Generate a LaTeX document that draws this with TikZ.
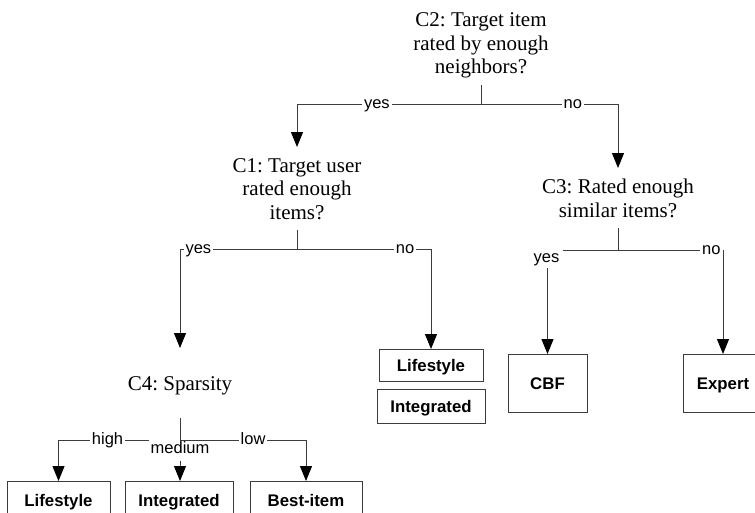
\documentclass[tikz,border=0pt]{standalone}
\usepackage{fontspec}
\setmainfont{Liberation Serif}
\setsansfont{Liberation Sans}
\usetikzlibrary{arrows.meta,positioning}
\definecolor{linegray}{HTML}{3C3C3C}
\frenchspacing

\begin{document}
\begin{tikzpicture}[x=1pt,y=-1pt,
    cond/.style={align=center,font=\fontsize{21}{23.5}\selectfont,inner xsep=2pt,inner ysep=11pt,text depth=0pt},
    lbl/.style={font=\sffamily\fontsize{16.5}{18}\selectfont,fill=white,inner sep=2pt,text height=8.6pt,text depth=0pt},
    leaf/.style={draw=linegray,line width=1pt,font=\sffamily\bfseries\fontsize{16.8}{18}\selectfont,text height=12pt,text depth=0pt},
    wire/.style={draw=linegray,line width=1pt},
    arr/.style={wire,-{Triangle[length=15pt,width=12pt,color=black]}}]
    \useasboundingbox (0,0) rectangle (755,512);

    \node[cond,anchor=north] (c2) at (481,1.5) {C2: Target item\\rated by enough\\neighbors?};
    \node[cond,anchor=north] (c1) at (297,147) {C1: Target user\\rated enough\\items?};
    \node[cond,anchor=north] (c3) at (618,168) {C3: Rated enough\\similar items?};
    \node[cond,anchor=north,inner ysep=28pt] (c4) at (180,348) {C4: Sparsity};

    \node[leaf,anchor=north,minimum width=104pt,minimum height=32pt] (life1) at (431,349) {Lifestyle};
    \node[leaf,below=7pt of life1,minimum width=108pt,minimum height=34pt] (int1) {Integrated};
    \node[leaf,anchor=north,minimum width=79pt,minimum height=58pt] (cbf) at (547.5,354) {CBF};
    \node[leaf,anchor=north,minimum width=80pt,minimum height=58pt] (expert) at (723,354) {Expert};
    \node[leaf,anchor=north,minimum width=103pt,minimum height=37pt] (life2) at (58.5,481) {Lifestyle};
    \node[leaf,anchor=north,minimum width=108pt,minimum height=37pt] (int2) at (179,481) {Integrated};
    \node[leaf,anchor=north,minimum width=112pt,minimum height=37pt] (best) at (306,481) {Best-item};

    \coordinate (c2split) at (481,104.3);
    \coordinate (c1split) at (297,249);
    \coordinate (c3split) at (618,250);
    \coordinate (c4split) at (180,440);

    \draw[wire] (c2.south) -- (c2split);
    \draw[arr] (c2split) -| node[lbl,pos=0.283] {yes} (c1);
    \draw[arr] (c2split) -| node[lbl,pos=0.335] {no} (c3);

    \draw[wire] (c1.south) -- (c1split);
    \draw[arr] (c1split) -| node[lbl,pos=0.5,anchor=west,xshift=3pt] {yes} (c4);
    \draw[arr] (c1split) -| node[lbl,pos=0.403] {no} (life1);

    \draw[wire] (c3.south) -- (c3split);
    \draw[arr] (c3split) -| node[lbl,pos=0.5,inner xsep=4pt,inner ysep=6pt,xshift=-1pt,yshift=-7.8pt] {yes} (cbf);
    \draw[arr] (c3split) -| node[lbl,pos=0.5,anchor=east,inner ysep=6pt] {no} (expert);

    \draw[arr] (c4split) -| node[lbl,pos=0.298] {high} (life2);
    \node[lbl,anchor=north,inner ysep=7pt] (medlbl) at (180,438) {medium};
    \draw[arr] (medlbl) -- (medlbl |- int2.north);
    \draw[arr] (c4split) -| node[lbl,pos=0.29] {low} (best);
    \draw[wire] (c4.south) -- (c4split);
  \end{tikzpicture}
\end{document}
